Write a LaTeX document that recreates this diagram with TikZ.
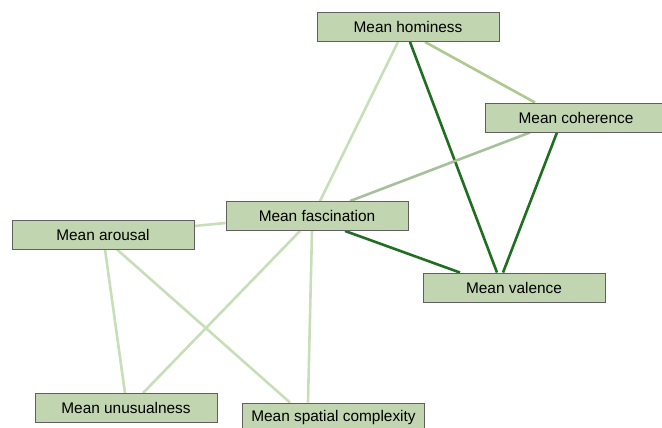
\documentclass[tikz,border=0pt]{standalone}
\usepackage{fontspec}
\setmainfont{Liberation Sans}
\usetikzlibrary{backgrounds}
\definecolor{boxfill}{HTML}{C0D5B0}
\definecolor{boxline}{HTML}{606060}
\definecolor{lightedge}{HTML}{C8DEB8}
\definecolor{midedge}{HTML}{AEC98E}
\definecolor{grayedge}{HTML}{A6C09C}
\definecolor{darkedge}{HTML}{1F6F1F}
\begin{document}
\begin{tikzpicture}[x=1pt,y=-1pt,
  var/.style={draw=boxline,line width=0.9pt,fill=boxfill,minimum width=182pt,minimum height=29pt,inner sep=0pt,
    font=\fontsize{15.4}{18}\selectfont},
  weak/.style={draw=lightedge,line width=2.6pt},
  medium/.style={draw=midedge,line width=2.6pt},
  grayish/.style={draw=grayedge,line width=2.6pt},
  strong/.style={draw=darkedge,line width=2.6pt}]
\useasboundingbox (0,0) rectangle (662,428);
\clip (0,0) rectangle (662,428);
\node[var] (hom) at (408,27) {Mean hominess};
\node[var] (coh) at (576,117.5) {Mean coherence};
\node[var] (fas) at (317,216) {Mean fascination};
\node[var] (aro) at (103,234.5) {Mean arousal};
\node[var] (val) at (514,287.5) {Mean valence};
\node[var] (unu) at (126,408) {Mean unusualness};
\node[var] (spa) at (333.5,417.5) {Mean spatial complexity};
\begin{scope}[on background layer]
\draw[weak] ([xshift=-10pt]hom.south) -- ([xshift=3pt]fas.north);
\draw[strong] ([xshift=2pt]hom.south) -- ([xshift=-17pt]val.north);
\draw[medium] ([xshift=17pt]hom.south) -- ([xshift=-41pt]coh.north);
\draw[strong] ([xshift=-19pt]coh.south) -- ([xshift=-11pt]val.north);
\draw[grayish] ([xshift=-46pt]coh.south) -- ([xshift=33pt]fas.north);
\draw[strong] ([xshift=28pt]fas.south) -- ([xshift=-54pt]val.north);
\draw[weak] ([yshift=8.5pt]aro.east) -- ([yshift=-7pt]fas.west);
\draw[weak] ([xshift=-17pt]fas.south) -- ([xshift=17pt]unu.north);
\draw[weak] ([xshift=-5pt]fas.south) -- ([xshift=-25.5pt]spa.north);
\draw[weak] ([xshift=2pt]aro.south) -- ([xshift=-1pt]unu.north);
\draw[weak] ([xshift=14pt]aro.south) -- ([xshift=-43.5pt]spa.north);
\end{scope}
\end{tikzpicture}
\end{document}
